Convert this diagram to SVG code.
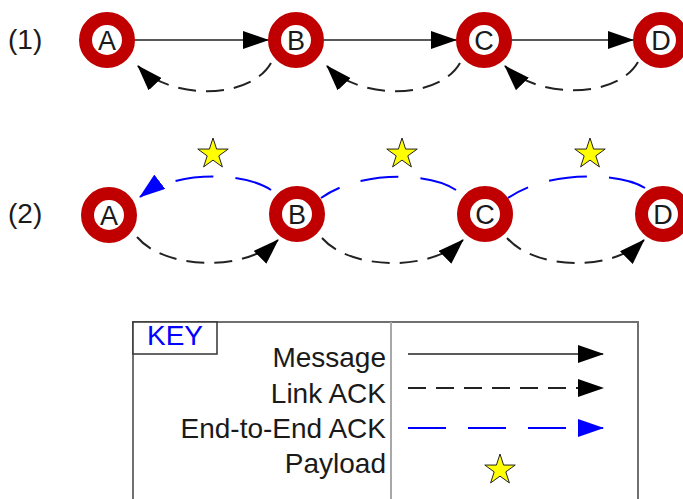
<svg xmlns="http://www.w3.org/2000/svg" xmlns:xlink="http://www.w3.org/1999/xlink" width="683" height="499" viewBox="0 0 683 499">
<style>
text{font-family:"Liberation Sans",Arial,sans-serif;fill:#1a1a1a}
.ring{fill:#fff;stroke:#c00000;stroke-width:13}
.lbl{font-size:27px;text-anchor:middle}
.row{font-size:28px}
.key{font-size:28px;text-anchor:end}
.msg{fill:none;stroke:#222;stroke-width:1.6;marker-end:url(#ah)}
.lack{fill:none;stroke:#222;stroke-width:2;stroke-dasharray:18 10;marker-end:url(#ah)}
.eack{fill:none;stroke:#0000ff;stroke-width:2;stroke-dasharray:38 22}
.star{fill:#ffff00;stroke:#222;stroke-width:1}
</style>
<defs>
<marker id="ah" markerUnits="userSpaceOnUse" markerWidth="26" markerHeight="18" viewBox="0 0 26 18" refX="25" refY="9" orient="auto"><path d="M0,0 L26,9 L0,18 Z" fill="#000"/></marker>
<marker id="ahb" markerUnits="userSpaceOnUse" markerWidth="26" markerHeight="18" viewBox="0 0 26 18" refX="25" refY="9" orient="auto"><path d="M0,0 L26,9 L0,18 Z" fill="#0000ff"/></marker>
<path id="star" d="M0,-16 L3.59,-4.94 L15.22,-4.94 L5.8,1.89 L9.4,12.94 L0,6.1 L-9.4,12.94 L-5.8,1.89 L-15.22,-4.94 L-3.59,-4.94 Z"/>
</defs>
<rect width="683" height="499" fill="#fff"/>
<text class="row" x="8" y="49">(1)</text>
<text class="row" x="8" y="223">(2)</text>
<g id="connectors">
<path class="msg" d="M135,40 L268,40"/>
<path class="msg" d="M324,40 L456,40"/>
<path class="msg" d="M512,40 L633,40"/>
<path class="lack" d="M271,63 C250,100 170,100 138,66"/>
<path class="lack" d="M460,63 C439,100 359,100 327,66"/>
<path class="lack" d="M638,62 C617,99 537,99 505,66"/>
<path class="lack" d="M137,237 C165,270 245,272 278,240"/>
<path class="lack" d="M322,238 C350,270 430,272 463,240"/>
<path class="lack" d="M507,238 C535,270 612,272 644,240"/>
<path class="eack" style="marker-end:url(#ahb)" d="M271,190 C245,172 175,170 140,197"/>
<path class="eack" d="M456,190 C430,172 360,170 321,198"/>
<path class="eack" d="M645,188 C620,172 548,170 508,198"/>
</g>
<g id="payloads">
<use xlink:href="#star" class="star" x="213" y="154"/>
<use xlink:href="#star" class="star" x="402" y="154"/>
<use xlink:href="#star" class="star" x="590" y="154"/>
</g>
<g id="nodeA1"><circle class="ring" cx="107" cy="40" r="21.5"/><text class="lbl" x="107" y="49.5">A</text></g>
<g id="nodeB1"><circle class="ring" cx="296" cy="40" r="21.5"/><text class="lbl" x="296" y="49.5">B</text></g>
<g id="nodeC1"><circle class="ring" cx="484" cy="40" r="21.5"/><text class="lbl" x="484" y="49.5">C</text></g>
<g id="nodeD1"><circle class="ring" cx="661" cy="40" r="21.5"/><text class="lbl" x="661" y="49.5">D</text></g>
<g id="nodeA2"><circle class="ring" cx="109" cy="215" r="21.5"/><text class="lbl" x="109" y="224.5">A</text></g>
<g id="nodeB2"><circle class="ring" cx="297" cy="214" r="21.5"/><text class="lbl" x="297" y="223.5">B</text></g>
<g id="nodeC2"><circle class="ring" cx="485" cy="214" r="21.5"/><text class="lbl" x="485" y="223.5">C</text></g>
<g id="nodeD2"><circle class="ring" cx="663" cy="214" r="21.5"/><text class="lbl" x="663" y="223.5">D</text></g>
<g id="legend">
<rect x="133" y="322" width="505" height="190" fill="#fff" stroke="#707070" stroke-width="2"/>
<line x1="391" y1="322" x2="391" y2="499" stroke="#a8a8a8" stroke-width="2"/>
<rect x="133" y="322" width="84" height="32" fill="#fff" stroke="#333" stroke-width="1.5"/>
<text x="147" y="345" style="font-size:28px;fill:#0000ff">KEY</text>
<text class="key" x="386" y="367">Message</text>
<text class="key" x="386" y="403">Link ACK</text>
<text class="key" x="386" y="438">End-to-End ACK</text>
<text class="key" x="386" y="473">Payload</text>
<path class="msg" d="M408,354 L603,354"/>
<path class="lack" d="M408,388 L603,388"/>
<path class="eack" style="marker-end:url(#ahb)" d="M408,428 L603,428"/>
<use xlink:href="#star" class="star" x="500" y="470"/>
</g>
</svg>
